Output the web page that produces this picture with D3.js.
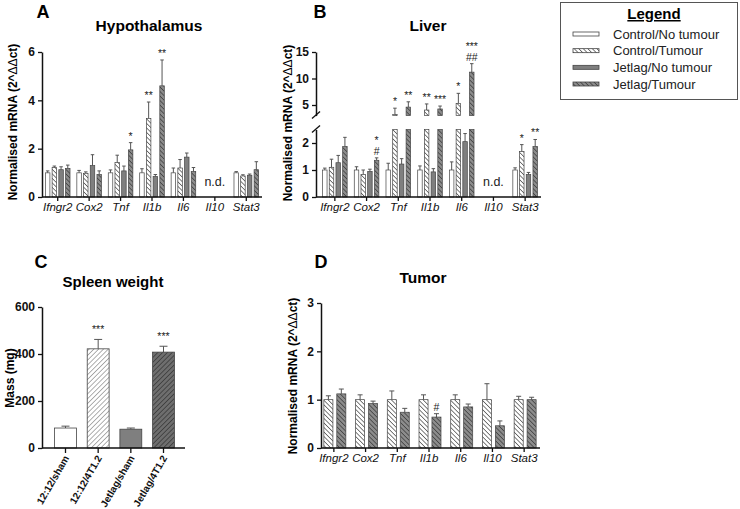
<!DOCTYPE html>
<html><head><meta charset="utf-8">
<script src="https://cdn.jsdelivr.net/npm/d3@7"></script>
<style>
body{margin:0;background:#fff;}
svg{font-family:"Liberation Sans",Arial,sans-serif;}
</style></head>
<body><svg id="c" width="740" height="509"></svg>
<script>
// ---------------- DATA ----------------
const genes = ["Ifngr2","Cox2","Tnf","Il1b","Il6","Il10","Stat3"];
const groups = ["Control/No tumour","Control/Tumour","Jetlag/No tumour","Jetlag/Tumour"];

// Hypothalamus (per gene: 4 groups); null = n.d.
const hypoMean = [[1.0,1.22,1.13,1.18],[1.0,0.98,1.3,0.93],[1.0,1.43,1.08,1.95],[1.0,3.25,0.85,4.6],[1.0,1.2,1.65,1.05],null,[1.0,0.87,0.9,1.13]];
const hypoErr  = [[0.08,0.06,0.12,0.14],[0.1,0.06,0.45,0.15],[0.12,0.3,0.2,0.3],[0.17,0.68,0.08,1.07],[0.2,0.35,0.17,0.17],null,[0.05,0.05,0.05,0.33]];
const hypoSig  = [[[],[],[],[]],[[],[],[],[]],[[],[],[],["*"]],[[],["**"],[],["**"]],[[],[],[],[]],null,[[],[],[],[]]];

// Liver
const liverMean = [[1.0,1.1,1.27,1.87],[1.0,0.83,0.95,1.36],[1.0,3.2,1.22,4.6],[1.0,4.05,0.93,4.25],[1.0,5.3,2.05,11.2],null,[1.0,1.68,0.83,1.87]];
const liverErr  = [[0.07,0.3,0.27,0.34],[0.12,0.17,0.08,0.09],[0.25,1.2,0.2,1.0],[0.15,1.15,0.12,0.55],[0.3,1.9,0.3,1.6],null,[0.08,0.26,0.08,0.26]];
const liverSig  = [[[],[],[],[]],[[],[],[],["*","#"]],[[],["*"],[],["**"]],[[],["**"],[],["***"]],[[],["*"],[],["***","##"]],null,[[],["*"],[],["**"]]];

// Spleen weight
const spleenCats = ["12:12/sham","12:12/4T1.2","Jetlag/sham","Jetlag/4T1.2"];
const spleenMean = [85,422,80,408];
const spleenErr  = [8,40,5,25];
const spleenSig  = ["","***","","***"];

// Tumour (Control/Tumour, Jetlag/Tumour)
const tumCtrlMean = [1.0,1.0,1.0,1.0,1.0,1.0,1.0];
const tumCtrlErr  = [0.08,0.1,0.18,0.1,0.1,0.33,0.07];
const tumJetMean  = [1.12,0.92,0.74,0.64,0.85,0.46,1.0];
const tumJetErr   = [0.1,0.05,0.08,0.07,0.06,0.1,0.05];
const tumJetSig   = ["","","","#","","",""];

const hypoTicks = [0,2,4,6];
const liverLowTicks = [0,1,2];
const liverHighTicks = [5,10,15];
const spleenTicks = [0,200,400,600];
const tumTicks = [0,1,2,3];

// ---------------- SETUP ----------------
const svg = d3.select("#c");
const defs = svg.append("defs");
function hatch(id, bg, fg, angle, size, sw){
  const p = defs.append("pattern").attr("id",id).attr("patternUnits","userSpaceOnUse")
    .attr("width",size).attr("height",size).attr("patternTransform",`rotate(${angle})`);
  p.append("rect").attr("width",size).attr("height",size).attr("fill",bg);
  p.append("line").attr("x1",0).attr("y1",0).attr("x2",0).attr("y2",size).attr("stroke",fg).attr("stroke-width",sw);
}
hatch("hLight","#ffffff","#3a3a3a",-45,3.2,1.3);
hatch("hDark","#8c8c8c","#333333",-45,3.2,1.3);
hatch("cLight","#ffffff","#7a7a7a",45,3.4,1.2);
hatch("cDark","#6e6e6e","#303030",45,3.4,1.3);

const groupFill = ["#ffffff","url(#hLight)","#7f7f7f","url(#hDark)"];
const barStroke = "#444";
const errColor = "#555";

function txt(x,y,s,opt={}){
  const t = svg.append("text").attr("x",x).attr("y",y).text(s)
    .attr("font-size",opt.size||12).attr("font-weight",opt.weight||"normal")
    .attr("text-anchor",opt.anchor||"middle").attr("fill",opt.fill||"#000");
  if(opt.style) t.attr("font-style",opt.style);
  return t;
}
function yLabel(x,cy,parts){
  const t = svg.append("text").attr("transform",`translate(${x},${cy}) rotate(-90)`)
    .attr("text-anchor","middle").attr("font-size",12).attr("font-weight","bold");
  parts.forEach(p=>t.append("tspan").text(p[0]).attr("font-weight",p[1]?"bold":"normal"));
}
const mrnaLabel = [["Normalised mRNA (2^",true],["ΔΔ",false],["ct)",true]];

function styleAxis(g){
  g.selectAll("path.domain").attr("stroke","#111").attr("stroke-width",1.5);
  g.selectAll(".tick line").attr("stroke","#111").attr("stroke-width",1.3);
  g.selectAll(".tick text").attr("font-family","Liberation Sans, Arial, sans-serif").attr("fill","#111");
}
function leftAxis(scale,ticks,x,fmt){
  const g = svg.append("g").attr("transform",`translate(${x},0)`)
    .call(d3.axisLeft(scale).tickValues(ticks).tickSize(4).tickSizeOuter(0).tickPadding(3).tickFormat(fmt||d3.format("d")));
  styleAxis(g);
  g.selectAll(".tick text").attr("font-size",12).attr("font-weight","bold");
  return g;
}
function bottomAxis(band,y,x0,x1){
  const g = svg.append("g").attr("transform",`translate(0,${y})`)
    .call(d3.axisBottom(band).tickSize(4).tickSizeOuter(0).tickPadding(0));
  styleAxis(g);
  g.select("path.domain").remove();
  g.append("line").attr("x1",x0).attr("x2",x1).attr("stroke","#111").attr("stroke-width",1.5);
  g.selectAll(".tick text").attr("font-size",11.5).attr("font-style","italic").attr("y",6).attr("dy","0.71em");
  return g;
}
function errBar(x,yTop,yErr,capW){
  svg.append("line").attr("x1",x).attr("x2",x).attr("y1",yTop).attr("y2",yErr).attr("stroke",errColor).attr("stroke-width",1);
  svg.append("line").attr("x1",x-capW/2).attr("x2",x+capW/2).attr("y1",yErr).attr("y2",yErr).attr("stroke",errColor).attr("stroke-width",1);
}
function sigText(x,yErr,labels){
  labels.slice().reverse().forEach((s,i)=>{
    txt(x,yErr-3-i*11,s,{size:10.5,fill:"#222"});
  });
}

// ---------------- PANEL A: Hypothalamus ----------------
{
  const x = d3.scaleBand().domain(genes).range([42,262]);
  const xi = d3.scaleBand().domain(d3.range(4)).range([-12.3,12.3]).paddingInner(0.33);
  const y = d3.scaleLinear().domain([0,6]).range([197,52]);
  genes.forEach((gname,gi)=>{
    const cx = x(gname)+x.bandwidth()/2;
    if(!hypoMean[gi]){ txt(cx,186,"n.d.",{size:12.5,fill:"#222"}); return; }
    hypoMean[gi].forEach((v,k)=>{
      const bx = cx+xi(k);
      const e = hypoErr[gi][k];
      errBar(bx+xi.bandwidth()/2,y(v),y(v+e),3.5);
      svg.append("rect").attr("x",bx).attr("width",xi.bandwidth()).attr("y",y(v)).attr("height",y(0)-y(v))
        .attr("fill",groupFill[k]).attr("stroke",barStroke).attr("stroke-width",0.7);
      sigText(bx+xi.bandwidth()/2,y(v+e),hypoSig[gi][k]);
    });
  });
  leftAxis(y,hypoTicks,42);
  bottomAxis(x,197,42,262);
  yLabel(17,122,mrnaLabel);
  txt(149,31,"Hypothalamus",{size:15.5,weight:"bold"});
  txt(43,18,"A",{size:18,weight:"bold"});
}

// ---------------- PANEL B: Liver (broken axis) ----------------
{
  const x = d3.scaleBand().domain(genes).range([319,541]);
  const xi = d3.scaleBand().domain(d3.range(4)).range([-12.3,12.3]).paddingInner(0.33);
  const lowMax = 2.5, highMin = 3;
  const yLow = d3.scaleLinear().domain([0,lowMax]).range([197,129.5]);
  const yHigh = d3.scaleLinear().domain([highMin,15]).range([115.6,52]);
  const yv = v => v<=lowMax ? yLow(v) : (v<highMin ? yHigh(highMin) : yHigh(v));
  genes.forEach((gname,gi)=>{
    const cx = x(gname)+x.bandwidth()/2;
    if(!liverMean[gi]){ txt(cx,186,"n.d.",{size:12.5,fill:"#222"}); return; }
    liverMean[gi].forEach((v,k)=>{
      const bx = cx+xi(k), bw = xi.bandwidth();
      const e = liverErr[gi][k];
      errBar(bx+bw/2,yv(v),yv(v+e),3.5);
      if(v<=lowMax){
        svg.append("rect").attr("x",bx).attr("width",bw).attr("y",yLow(v)).attr("height",yLow(0)-yLow(v))
          .attr("fill",groupFill[k]).attr("stroke",barStroke).attr("stroke-width",0.7);
      } else {
        svg.append("rect").attr("x",bx).attr("width",bw).attr("y",yLow(lowMax)).attr("height",yLow(0)-yLow(lowMax))
          .attr("fill",groupFill[k]).attr("stroke",barStroke).attr("stroke-width",0.7);
        svg.append("rect").attr("x",bx).attr("width",bw).attr("y",yHigh(v)).attr("height",yHigh(highMin)-yHigh(v))
          .attr("fill",groupFill[k]).attr("stroke",barStroke).attr("stroke-width",0.7);
      }
      sigText(bx+bw/2,yv(v+e),liverSig[gi][k]);
    });
  });
  leftAxis(yLow,liverLowTicks,316);
  leftAxis(yHigh,liverHighTicks,316);
  // break marks
  [yLow(lowMax),yHigh(highMin)].forEach(by=>{
    svg.append("line").attr("x1",312).attr("x2",320).attr("y1",by+3).attr("y2",by-4).attr("stroke","#111").attr("stroke-width",1.3);
  });
  bottomAxis(x,197,316,541);
  yLabel(292,123,mrnaLabel);
  txt(428,31,"Liver",{size:15.5,weight:"bold"});
  txt(320,18,"B",{size:18,weight:"bold"});
}

// ---------------- LEGEND ----------------
{
  svg.append("rect").attr("x",560.5).attr("y",2.5).attr("width",177).attr("height",97)
    .attr("fill","#fff").attr("stroke","#555").attr("stroke-width",1);
  txt(654,19,"Legend",{size:15,weight:"bold"}).attr("text-decoration","underline");
  const ly = d3.scalePoint().domain(groups).range([34,84]);
  groups.forEach((gname,k)=>{
    svg.append("rect").attr("x",573).attr("y",ly(gname)-2).attr("width",26).attr("height",4)
      .attr("fill",groupFill[k]).attr("stroke",barStroke).attr("stroke-width",0.8);
    txt(613,ly(gname)+4.5,gname,{size:13,anchor:"start",fill:"#222"});
  });
}

// ---------------- PANEL C: Spleen weight ----------------
{
  const x = d3.scaleBand().domain(spleenCats).range([49,180]).paddingInner(0.33).paddingOuter(0.17);
  const y = d3.scaleLinear().domain([0,600]).range([448,307]);
  const fills = ["#ffffff","url(#cLight)","#7f7f7f","url(#cDark)"];
  spleenCats.forEach((c,k)=>{
    const bx = x(c), bw = x.bandwidth();
    const v = spleenMean[k], e = spleenErr[k];
    errBar(bx+bw/2,y(v),y(v+e),8);
    svg.append("rect").attr("x",bx).attr("width",bw).attr("y",y(v)).attr("height",y(0)-y(v))
      .attr("fill",fills[k]).attr("stroke",barStroke).attr("stroke-width",0.8);
    if(spleenSig[k]) txt(bx+bw/2,y(v+e)-6,spleenSig[k],{size:10.5,fill:"#222"});
  });
  leftAxis(y,spleenTicks,42);
  const g = svg.append("g").attr("transform","translate(0,448)")
    .call(d3.axisBottom(x).tickSize(5).tickSizeOuter(0));
  styleAxis(g);
  g.select("path.domain").remove();
  g.append("line").attr("x1",42).attr("x2",185).attr("stroke","#111").attr("stroke-width",1.5);
  g.selectAll(".tick text").attr("font-size",10).attr("font-weight","bold")
    .attr("text-anchor","end").attr("y",0).attr("dy",0)
    .attr("transform","translate(4,10) rotate(-60)");
  yLabel(14,378,[["Mass (mg)",true]]);
  txt(113,287,"Spleen weight",{size:15,weight:"bold"});
  txt(41,268,"C",{size:18,weight:"bold"});
}

// ---------------- PANEL D: Tumor ----------------
{
  const x = d3.scaleBand().domain(genes).range([318,540]);
  const xi = d3.scaleBand().domain([0,1]).range([-11,11]).paddingInner(0.3);
  const y = d3.scaleLinear().domain([0,3]).range([448,303]);
  const fills = ["url(#hLight)","url(#hDark)"];
  genes.forEach((gname,gi)=>{
    const cx = x(gname)+x.bandwidth()/2+1;
    [[tumCtrlMean[gi],tumCtrlErr[gi],""],[tumJetMean[gi],tumJetErr[gi],tumJetSig[gi]]].forEach((d,k)=>{
      const bx = cx+xi(k), bw = xi.bandwidth();
      const v = d[0], e = d[1];
      errBar(bx+bw/2,y(v),y(v+e),5);
      svg.append("rect").attr("x",bx).attr("width",bw).attr("y",y(v)).attr("height",y(0)-y(v))
        .attr("fill",fills[k]).attr("stroke",barStroke).attr("stroke-width",0.7);
      if(d[2]) sigText(bx+bw/2,y(v+e),[d[2]]);
    });
  });
  leftAxis(y,tumTicks,321);
  bottomAxis(x,448,321,540);
  yLabel(297,376,mrnaLabel);
  txt(423,283,"Tumor",{size:15.5,weight:"bold"});
  txt(321,268,"D",{size:18,weight:"bold"});
}
</script></body></html>
